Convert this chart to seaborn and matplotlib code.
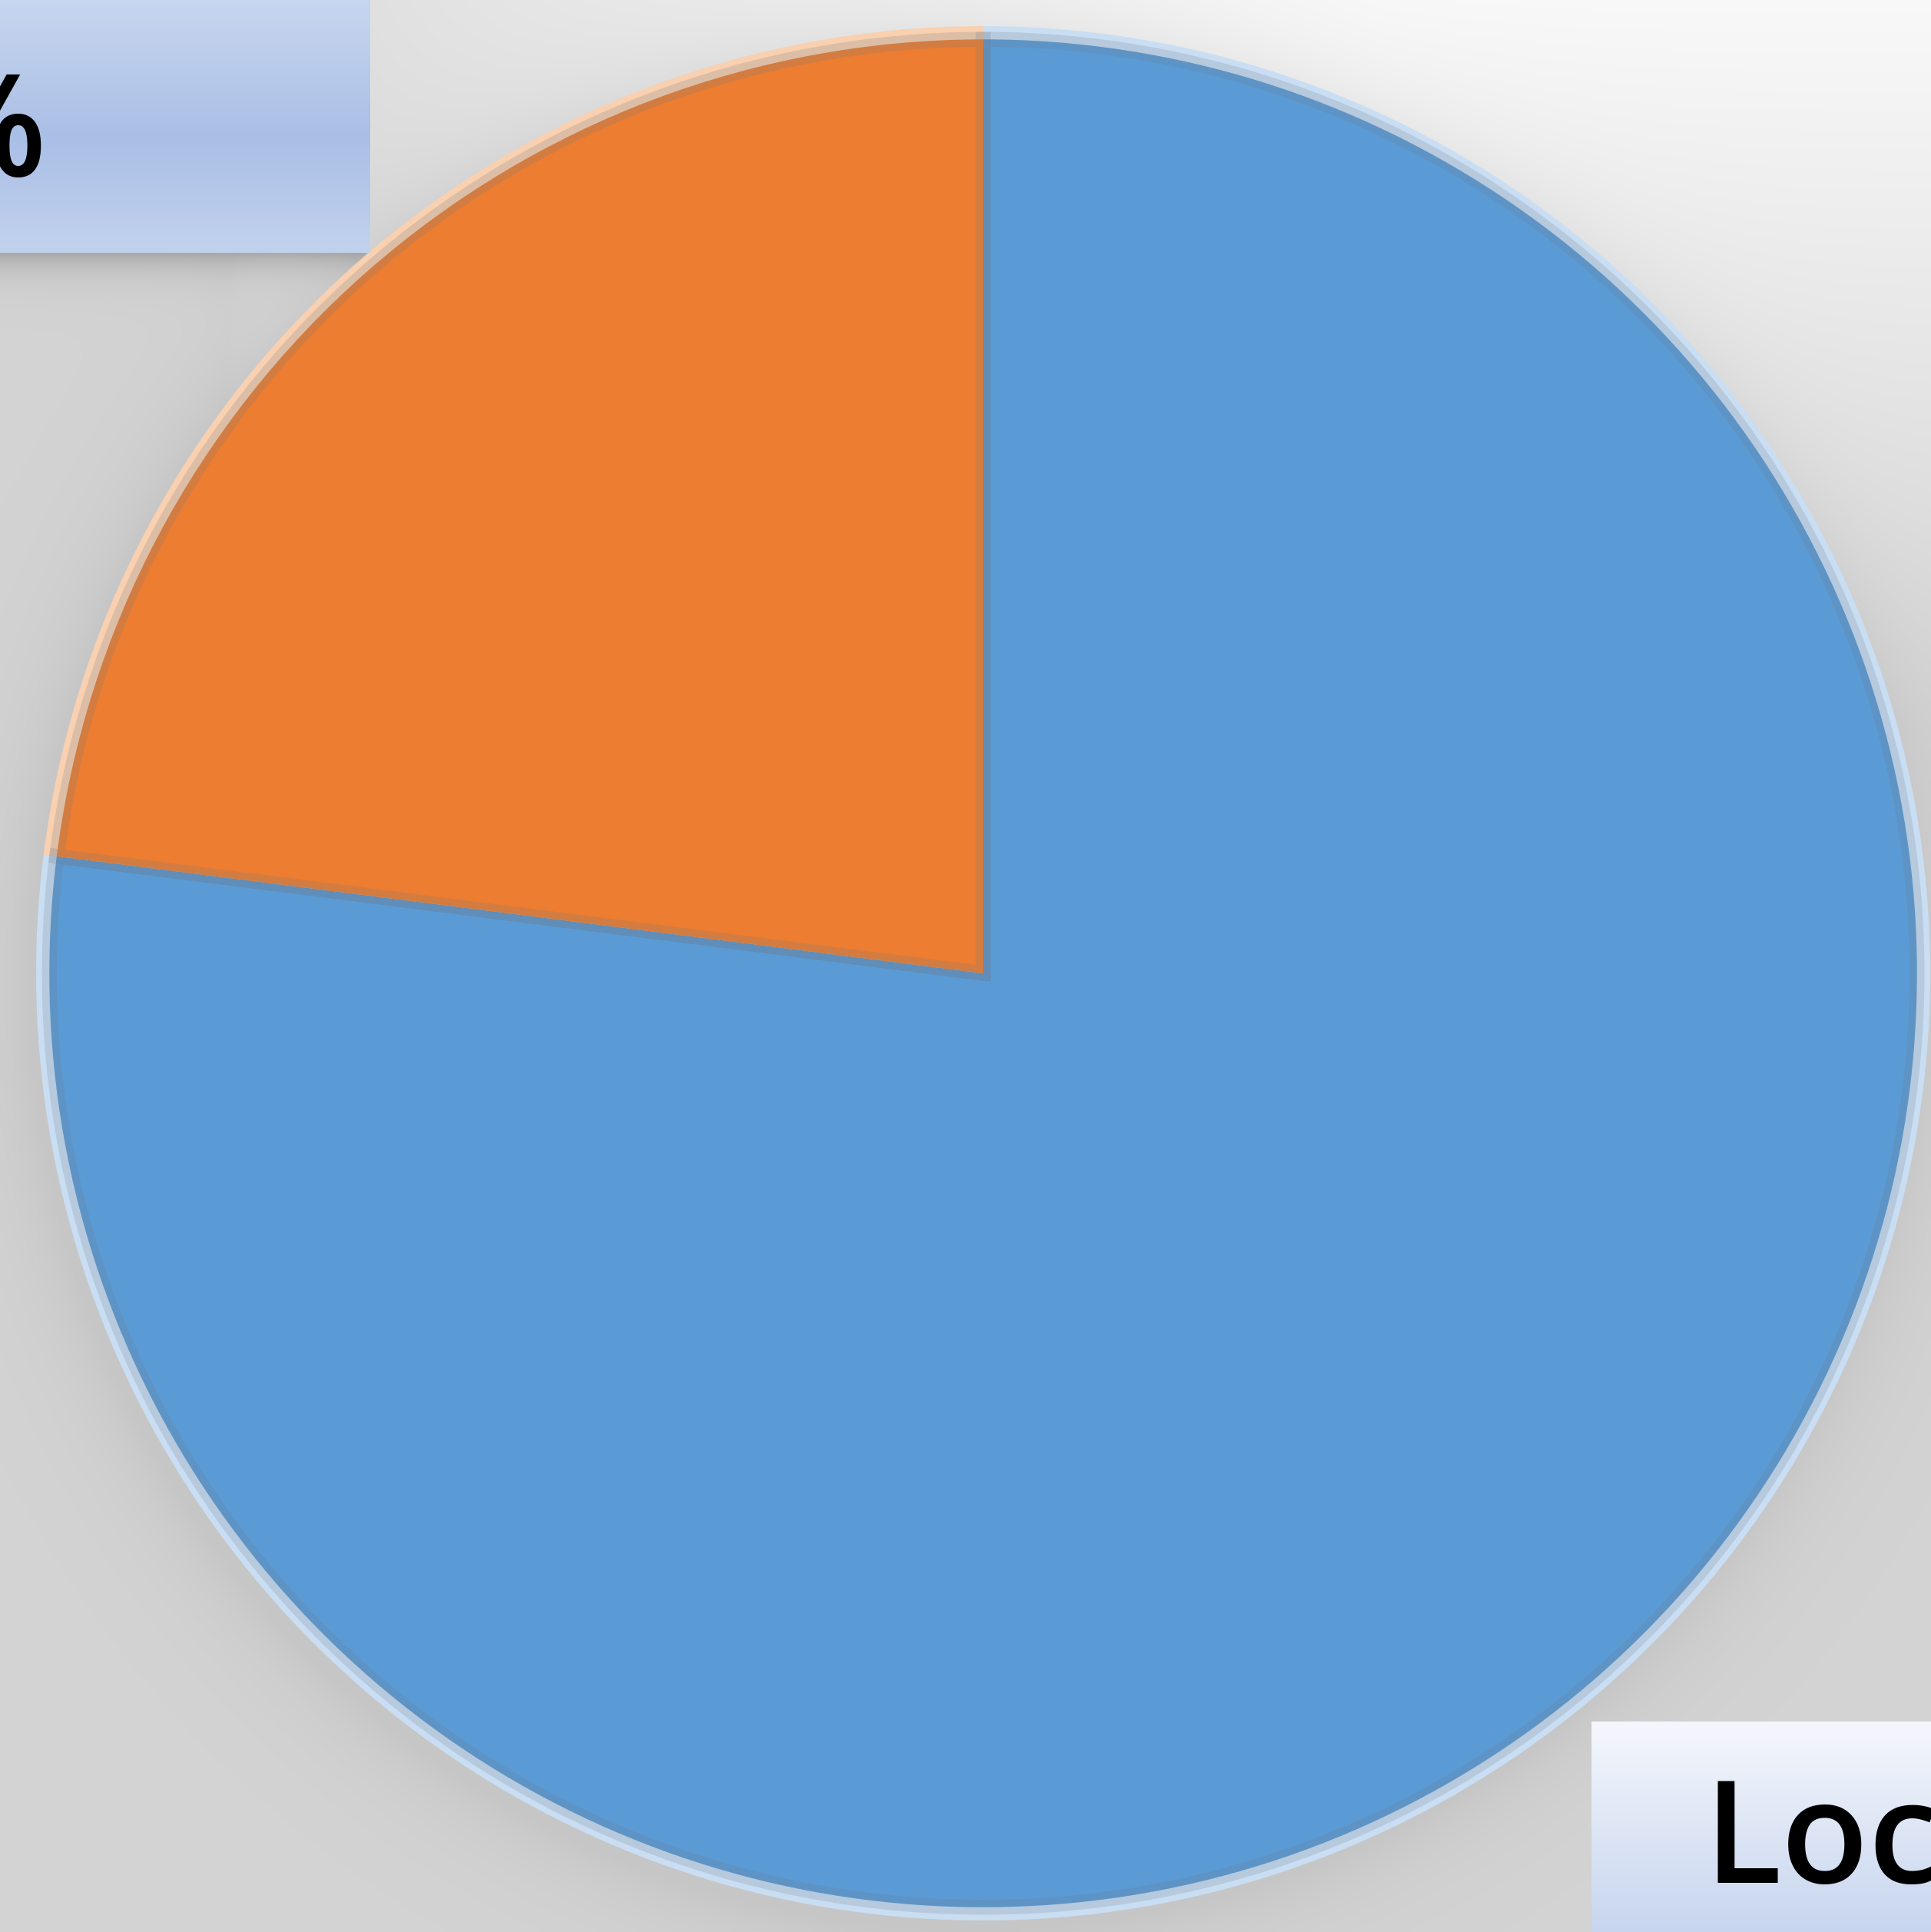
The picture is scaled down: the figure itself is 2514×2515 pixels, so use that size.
import numpy as np
import matplotlib
matplotlib.use("Agg")
import matplotlib.pyplot as plt
import seaborn as sns
from matplotlib import font_manager
from matplotlib.colors import LinearSegmentedColormap

# ---- data ----
categories = ["Local", "Imported"]
shares = [77, 23]
pct_labels = ["77%", "23%"]
slice_colors = ["#5b9bd5", "#ed7d31"]
rim_colors = ["#c9def3", "#f9d0b0"]

W, H, DPI = 2514, 2515, 100
sns.set_theme(style="white")
names = {f.name for f in font_manager.fontManager.ttflist}
label_font = next(n for n in ["Open Sans", "Noto Sans", "Lato", "DejaVu Sans"] if n in names)
plt.rcParams["font.family"] = [label_font, "DejaVu Sans"]

fig = plt.figure(figsize=(W / DPI, H / DPI), dpi=DPI)

# ---- background with soft shadows ----
ax_bg = fig.add_axes([0, 0, 1, 1])
step = 4
xs = np.arange(0, W, step) + step / 2
ys = np.arange(0, H, step) + step / 2
X, Y = np.meshgrid(xs, ys)
g = 0.83 + 0.145 * np.clip(1 - Y / 950, 0, 1) * np.sqrt(np.clip((X - 300) / 1500, 0, 1))
cx, cy, r = 1280, 1267, 1233
d = np.hypot(X - cx + 10, Y - cy - 15)
g = g - 0.05 * np.exp(-np.clip(d - r, 0, None) / 60)
tl_right, tl_bottom = 482, 329
g = g - 0.18 * np.exp(-np.clip(Y - tl_bottom, 0, None) / 22) * (Y > tl_bottom) * np.clip((tl_right + 20 - X) / 30, 0, 1)
g = np.clip(g, 0, 1)
ax_bg.imshow(np.dstack([g, g, g]), extent=(0, W, H, 0), aspect="auto", interpolation="bilinear", zorder=0)
ax_bg.set_xlim(0, W)
ax_bg.set_ylim(H, 0)
ax_bg.axis("off")

# ---- pie ----
ax_pie = fig.add_axes([(cx - r) / W, (H - cy - r) / H, 2 * r / W, 2 * r / H])
ax_pie.patch.set_alpha(0)
ax_pie.pie(shares, colors=rim_colors, startangle=90, counterclock=False, radius=1.0,
           wedgeprops=dict(linewidth=0))
ax_pie.pie(shares, colors=slice_colors, startangle=90, counterclock=False, radius=0.986,
           wedgeprops=dict(linewidth=14, edgecolor=(0.42, 0.47, 0.52, 0.2)))
ax_pie.set_xlim(-1, 1)
ax_pie.set_ylim(-1, 1)
ax_pie.axis("off")

# ---- data label boxes ----
ax_top = fig.add_axes([0, 0, 1, 1])
ax_top.patch.set_alpha(0)
box_cmap = LinearSegmentedColormap.from_list(
    "box", [(0, "#f5f7fc"), (0.45, "#c8d6ef"), (0.75, "#aabfe6"), (1, "#c2d2ee")])
grad = np.linspace(0, 1, 256).reshape(-1, 1)


def draw_box(x0, x1, y0, y1):
    ax_top.imshow(grad, cmap=box_cmap, aspect="auto", extent=(x0, x1, y1, y0),
                  interpolation="bilinear", zorder=2)


FS = 134
FW = "semibold"
line_gap = 291
br_left, br_top = 2072, 2241
draw_box(tl_right - 900, tl_right, tl_bottom - 600, tl_bottom)
draw_box(br_left, br_left + 760, br_top, br_top + 600)
ax_top.set_xlim(0, W)
ax_top.set_ylim(H, 0)
ax_top.axis("off")

renderer = fig.canvas.get_renderer()
# label of the orange slice (top-left, mostly cut off)
t = ax_top.text(62, 229, pct_labels[1], ha="right", va="baseline", fontsize=FS,
                fontweight=FW, color="black", zorder=3)
bb = t.get_window_extent(renderer)
ax_top.text(62 - bb.width / 2, 229 - line_gap, categories[1], ha="center", va="baseline",
            fontsize=FS, fontweight=FW, color="black", zorder=3)
# label of the blue slice (bottom-right, mostly cut off)
t2 = ax_top.text(2219, 2451, categories[0], ha="left", va="baseline", fontsize=FS,
                 fontweight=FW, color="black", zorder=3)
bb2 = t2.get_window_extent(renderer)
ax_top.text(2219 + bb2.width / 2, 2451 + line_gap, pct_labels[0], ha="center", va="baseline",
            fontsize=FS, fontweight=FW, color="black", zorder=3)

fig.savefig("out.png", dpi=DPI)
